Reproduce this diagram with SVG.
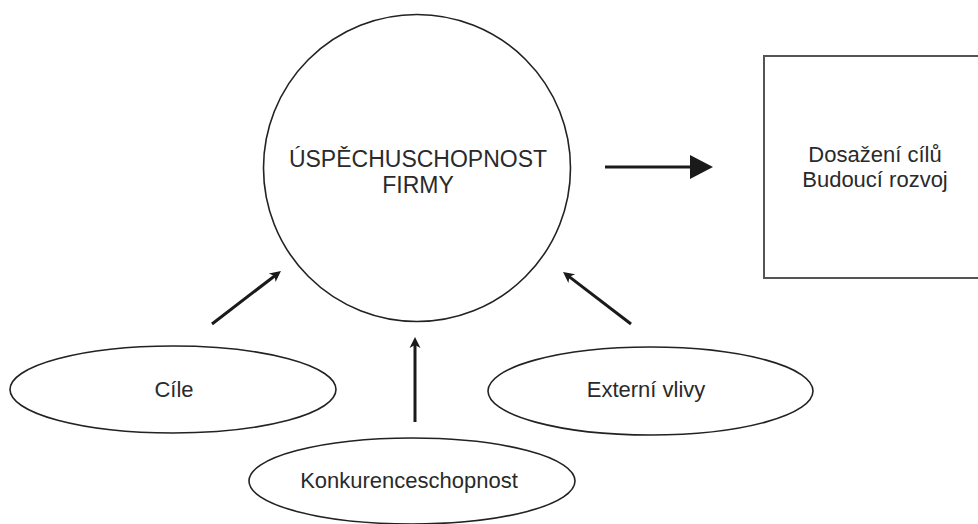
<svg xmlns="http://www.w3.org/2000/svg" width="978" height="524" viewBox="0 0 978 524">
<style>
  .shape { fill: #ffffff; stroke: #222222; stroke-width: 1.6; }
  .box { fill: #ffffff; stroke: #555555; stroke-width: 2; }
  .lbl { font-family: "Liberation Sans", Arial, sans-serif; font-size: 22px; fill: #2a2a2a; text-anchor: middle; }
  .big { font-size: 23px; }
  .arrow { stroke: #1a1a1a; stroke-width: 3; fill: none; }
</style>
<defs>
  <marker id="barb" markerUnits="userSpaceOnUse" viewBox="-12 -7 13 14" markerWidth="13" markerHeight="14" refX="-6" refY="0" orient="auto">
    <path d="M0,0 L-11,-5.5 L-8,0 L-11,5.5 Z" fill="#1a1a1a"/>
  </marker>
  <marker id="tri" markerUnits="userSpaceOnUse" viewBox="0 -12 24 24" markerWidth="24" markerHeight="24" refX="0" refY="0" orient="auto">
    <path d="M0,-12 L23,0 L0,12 Z" fill="#1a1a1a"/>
  </marker>
</defs>
<rect width="978" height="524" fill="#ffffff"/>

<g id="node-uspechuschopnost">
  <circle class="shape" cx="417" cy="168" r="153.5"/>
  <text class="lbl big" x="418" y="167">ÚSPĚCHUSCHOPNOST</text>
  <text class="lbl big" x="418" y="193">FIRMY</text>
</g>

<g id="node-dosazeni">
  <rect class="box" x="764" y="56" width="230" height="222"/>
  <text class="lbl" x="875" y="162">Dosažení cílů</text>
  <text class="lbl" x="875" y="187">Budoucí rozvoj</text>
</g>

<g id="node-cile">
  <ellipse class="shape" cx="173" cy="389.5" rx="163" ry="43.5"/>
  <text class="lbl" x="174" y="397">Cíle</text>
</g>

<g id="node-externi">
  <ellipse class="shape" cx="650.5" cy="391" rx="162.5" ry="44"/>
  <text class="lbl" x="646" y="397">Externí vlivy</text>
</g>

<g id="node-konkurence">
  <ellipse class="shape" cx="412" cy="481" rx="163" ry="43"/>
  <text class="lbl" x="409" y="488">Konkurenceschopnost</text>
</g>

<g id="connectors">
  <line class="arrow" x1="605" y1="167" x2="690" y2="167" marker-end="url(#tri)"/>
  <line class="arrow" x1="212" y1="324" x2="276.2" y2="274.7" marker-end="url(#barb)"/>
  <line class="arrow" x1="631" y1="324" x2="567.8" y2="275.6" marker-end="url(#barb)"/>
  <line class="arrow" x1="415" y1="422" x2="415" y2="343" marker-end="url(#barb)"/>
</g>
</svg>
